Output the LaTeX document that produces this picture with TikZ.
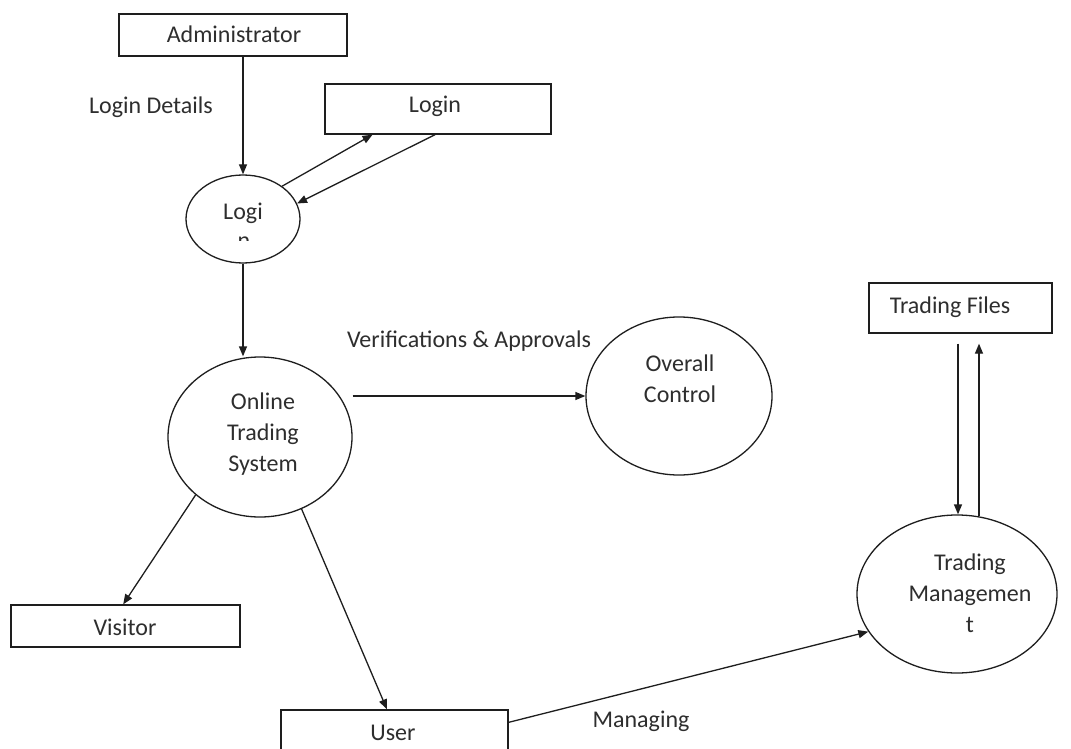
\documentclass[tikz,border=0pt]{standalone}
\usepackage{fontspec}
\setmainfont{Carlito}
\usetikzlibrary{shapes.geometric,arrows.meta,calc}
\definecolor{ln}{HTML}{1E1E1E}
\definecolor{txt}{HTML}{2E2E2E}
\begin{document}
\begin{tikzpicture}[x=1pt,y=-1pt,
  box/.style={draw=ln, line width=1.3pt, rectangle, inner sep=0pt},
  bub/.style={draw=ln, line width=1.3pt, ellipse, inner sep=0pt},
  arr/.style={draw=ln, line width=1.3pt, -{Triangle[length=10pt,width=8pt]}},
  lbl/.style={text=txt, inner sep=0pt, align=center, font=\fontsize{24}{31}\selectfont},
  lb/.style={lbl, anchor=base, yshift=-7pt}]
\clip (0,0) rectangle (1071,749);
\fill[white] (0,0) rectangle (1071,749);
% boxes
\node[box, minimum width=228pt, minimum height=42pt] (admin) at (233,35) {};
\node[box, minimum width=226pt, minimum height=50pt] (loginb) at (438,109) {};
\node[box, minimum width=183pt, minimum height=50pt] (tf) at (960.5,308) {};
\node[box, minimum width=229pt, minimum height=42pt] (visitor) at (125.5,626) {};
\node[box, minimum width=227pt, minimum height=42pt] (user) at (394.5,731) {};
% bubbles
\node[bub, minimum width=114pt, minimum height=88pt] (logc) at (243,219) {};
\node[bub, minimum width=184pt, minimum height=160pt] (ots) at (260,437) {};
\node[bub, minimum width=186pt, minimum height=158pt] (ov) at (679,396) {};
\node[bub, minimum width=200pt, minimum height=158pt] (tm) at (957,594) {};
% texts
\node[lb] (tadmin) at (234,36) {Administrator};
\node[lb] (tloginb) at (435,106) {Login};
\node[lb] (ttf) at (950,306) {Trading Files};
\node[lb] (tvisitor) at (125,628) {Visitor};
\node[lb] (tuser) at (393,733) {User};
\node[lb] (tlogc) at (243,212) {Logi};
\begin{scope}
  \clip (230,232) rectangle (260,240);
  \node[lb] (tlogn) at (244,241) {n};
\end{scope}
\node[lbl] (tots) at (263,434) {Online\\Trading\\System};
\node[lbl] (tov) at (680,379) {Overall\\Control};
\node[lbl] (ttm) at (970,593) {Trading\\Managemen\\t};
\node[lb] (tdet) at (151,107) {Login Details};
\node[lb] (tver) at (469,340) {Verifications \& Approvals};
\node[lb] (tman) at (641,720) {Managing};
% connectors
\draw[arr] (logc.north |- admin.south) -- (logc.north);
\draw[arr] (logc.40) -- ($(loginb.south west)!0.212!(loginb.south east)$);
\draw[arr] ($(loginb.south west)!0.487!(loginb.south east)$) -- (logc.16);
\draw[arr] (logc.south) -- (logc.south |- ots.north);
\draw[arr] (ov.west -| ots.east) -- (ov.west);
\draw[arr] (ots.222) -- ($(visitor.north west)!0.49!(visitor.north east)$);
\draw[arr] (ots.300) -- ($(user.north west)!0.467!(user.north east)$);
\draw[arr] ($(user.north east)!0.3!(user.south east)$) -- (tm.203);
\draw[arr] ($(tf.south)+(-2.5,10)$) -- ($(tm.north)+(1,0)$);
\draw[arr] ($(tm.north)+(22,1.5)$) -- ($(tf.south)+(18.5,10)$);
\end{tikzpicture}
\end{document}
